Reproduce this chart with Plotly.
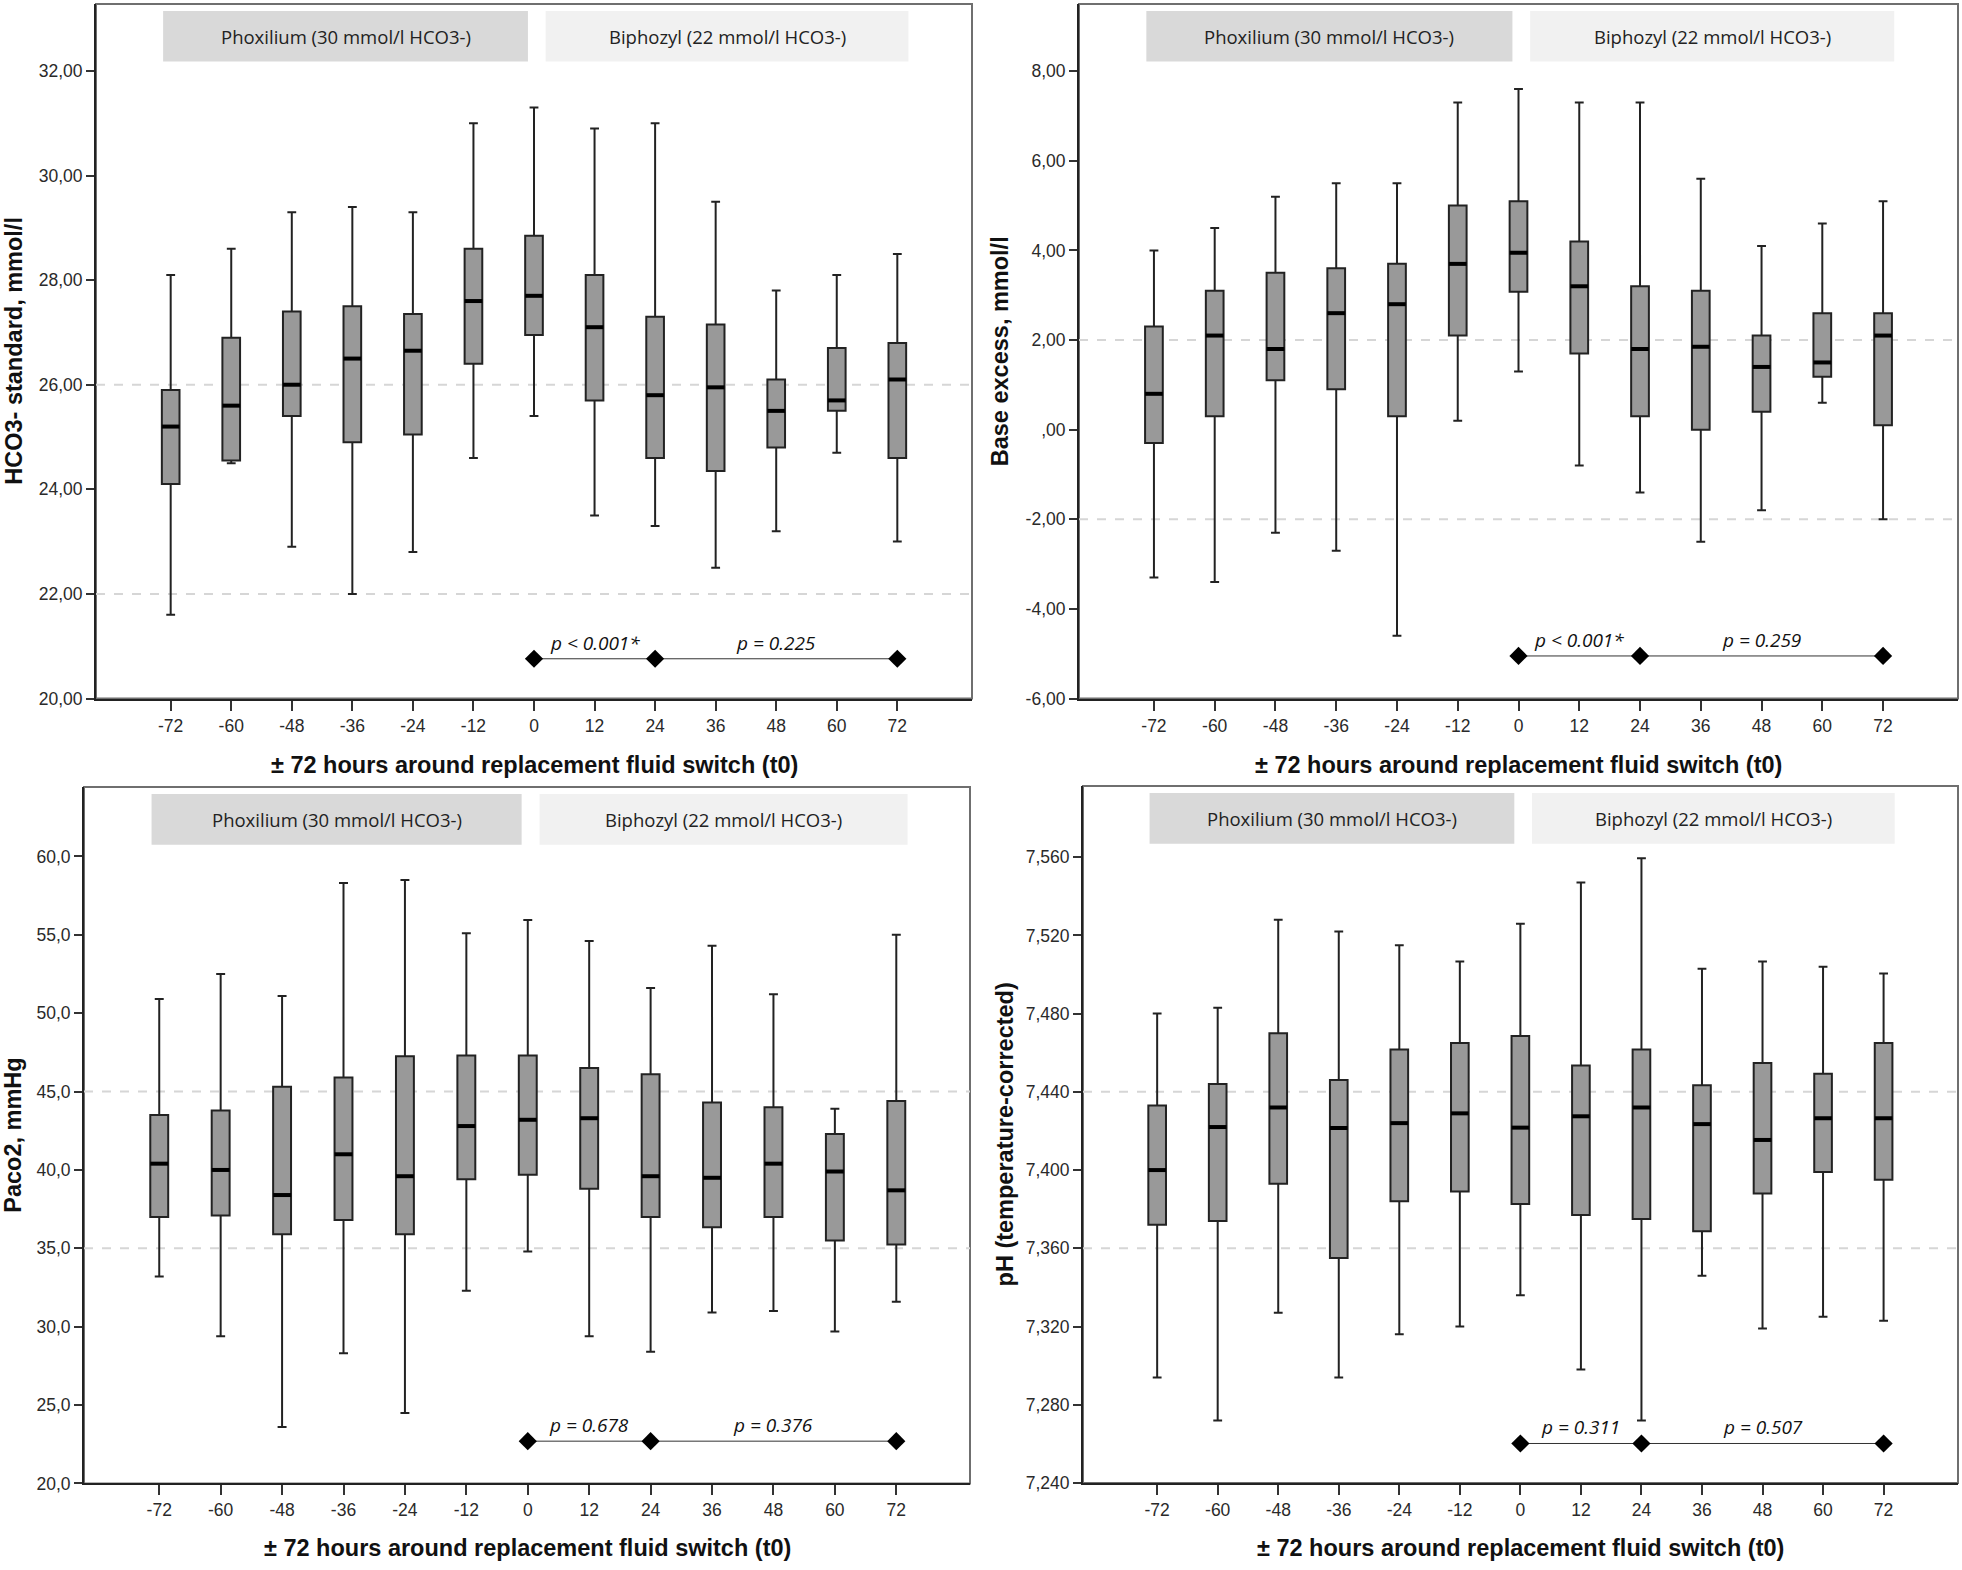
import plotly.graph_objects as go

# ---------------- data ----------------
hours = [-72, -60, -48, -36, -24, -12, 0, 12, 24, 36, 48, 60, 72]
hour_labels = [str(h) for h in hours]

# Panel 1: HCO3- standard, mmol/l
hco3_low = [21.6, 24.5, 22.9, 22.0, 22.8, 24.6, 25.4, 23.5, 23.3, 22.5, 23.2, 24.7, 23.0]
hco3_q1 = [24.1, 24.55, 25.4, 24.9, 25.05, 26.4, 26.95, 25.7, 24.6, 24.35, 24.8, 25.5, 24.6]
hco3_med = [25.2, 25.6, 26.0, 26.5, 26.65, 27.6, 27.7, 27.1, 25.8, 25.95, 25.5, 25.7, 26.1]
hco3_q3 = [25.9, 26.9, 27.4, 27.5, 27.35, 28.6, 28.85, 28.1, 27.3, 27.15, 26.1, 26.7, 26.8]
hco3_high = [28.1, 28.6, 29.3, 29.4, 29.3, 31.0, 31.3, 30.9, 31.0, 29.5, 27.8, 28.1, 28.5]
hco3_ticks = [20, 22, 24, 26, 28, 30, 32]
hco3_ticklabels = ["20,00", "22,00", "24,00", "26,00", "28,00", "30,00", "32,00"]
hco3_refs = [22, 26]
hco3_p_y = 20.76
hco3_p_text = ["p < 0.001*", "p = 0.225"]

# Panel 2: Base excess, mmol/l
be_low = [-3.3, -3.4, -2.3, -2.7, -4.6, 0.2, 1.3, -0.8, -1.4, -2.5, -1.8, 0.6, -2.0]
be_q1 = [-0.3, 0.3, 1.1, 0.9, 0.3, 2.1, 3.08, 1.7, 0.3, 0.0, 0.4, 1.18, 0.1]
be_med = [0.8, 2.1, 1.8, 2.6, 2.8, 3.7, 3.95, 3.2, 1.8, 1.85, 1.4, 1.5, 2.1]
be_q3 = [2.3, 3.1, 3.5, 3.6, 3.7, 5.0, 5.1, 4.2, 3.2, 3.1, 2.1, 2.6, 2.6]
be_high = [4.0, 4.5, 5.2, 5.5, 5.5, 7.3, 7.6, 7.3, 7.3, 5.6, 4.1, 4.6, 5.1]
be_ticks = [-6, -4, -2, 0, 2, 4, 6, 8]
be_ticklabels = ["-6,00", "-4,00", "-2,00", ",00", "2,00", "4,00", "6,00", "8,00"]
be_refs = [-2, 2]
be_p_y = -5.05
be_p_text = ["p < 0.001*", "p = 0.259"]

# Panel 3: Paco2, mmHg
paco2_low = [33.2, 29.4, 23.6, 28.3, 24.5, 32.3, 34.8, 29.4, 28.4, 30.9, 31.0, 29.7, 31.6]
paco2_q1 = [37.0, 37.1, 35.9, 36.8, 35.9, 39.4, 39.7, 38.8, 37.0, 36.35, 37.0, 35.5, 35.25]
paco2_med = [40.4, 40.0, 38.4, 41.0, 39.6, 42.8, 43.2, 43.3, 39.6, 39.5, 40.4, 39.9, 38.7]
paco2_q3 = [43.5, 43.8, 45.3, 45.9, 47.25, 47.3, 47.3, 46.5, 46.1, 44.3, 44.0, 42.3, 44.4]
paco2_high = [50.9, 52.5, 51.1, 58.3, 58.5, 55.1, 55.95, 54.6, 51.6, 54.3, 51.2, 43.9, 55.0]
paco2_ticks = [20, 25, 30, 35, 40, 45, 50, 55, 60]
paco2_ticklabels = ["20,0", "25,0", "30,0", "35,0", "40,0", "45,0", "50,0", "55,0", "60,0"]
paco2_refs = [35, 45]
paco2_p_y = 22.7
paco2_p_text = ["p = 0.678", "p = 0.376"]

# Panel 4: pH (temperature-corrected)
ph_low = [7.294, 7.272, 7.327, 7.294, 7.316, 7.320, 7.336, 7.298, 7.272, 7.346, 7.319, 7.325, 7.323]
ph_q1 = [7.372, 7.374, 7.393, 7.355, 7.384, 7.389, 7.3826, 7.377, 7.375, 7.3687, 7.388, 7.399, 7.395]
ph_med = [7.400, 7.422, 7.432, 7.4215, 7.424, 7.429, 7.4217, 7.4275, 7.432, 7.4235, 7.4154, 7.4265, 7.4265]
ph_q3 = [7.433, 7.444, 7.470, 7.446, 7.4617, 7.465, 7.4685, 7.4535, 7.4617, 7.4434, 7.4547, 7.4492, 7.465]
ph_high = [7.480, 7.483, 7.528, 7.522, 7.515, 7.5066, 7.526, 7.547, 7.5595, 7.503, 7.5066, 7.504, 7.5005]
ph_ticks = [7.24, 7.28, 7.32, 7.36, 7.40, 7.44, 7.48, 7.52, 7.56]
ph_ticklabels = ["7,240", "7,280", "7,320", "7,360", "7,400", "7,440", "7,480", "7,520", "7,560"]
ph_refs = [7.36, 7.44]
ph_p_y = 7.2602
ph_p_text = ["p = 0.311", "p = 0.507"]

p_hours = [0, 24, 72]
p_text_hours = [12, 48]

group_labels = ["Phoxilium (30 mmol/l HCO3-)", "Biphozyl (22 mmol/l HCO3-)"]
group_spans = [(-73.5, -1.2), (2.3, 74.2)]
group_colors = ["#d9d9d9", "#f1f1f1"]

x_title = "± 72 hours around replacement fluid switch (t0)"

# ---------------- layout geometry (pixels) ----------------
W, H = 1962, 1570
panels = [
    dict(low=hco3_low, q1=hco3_q1, med=hco3_med, q3=hco3_q3, high=hco3_high,
         ticks=hco3_ticks, labels=hco3_ticklabels, refs=hco3_refs, p_y=hco3_p_y, p_text=hco3_p_text,
         ytitle="HCO3- standard, mmol/l", px=(96, 972), py=(4, 703), yr=(20, 33.28), xr=(-86.8, 86.8),
         ytitle_x=14.5, xtitle_y=770),
    dict(low=be_low, q1=be_q1, med=be_med, q3=be_q3, high=be_high,
         ticks=be_ticks, labels=be_ticklabels, refs=be_refs, p_y=be_p_y, p_text=be_p_text,
         ytitle="Base excess, mmol/l", px=(1079, 1958), py=(4, 703), yr=(-6, 9.5), xr=(-86.8, 86.8),
         ytitle_x=1000, xtitle_y=770),
    dict(low=paco2_low, q1=paco2_q1, med=paco2_med, q3=paco2_q3, high=paco2_high,
         ticks=paco2_ticks, labels=paco2_ticklabels, refs=paco2_refs, p_y=paco2_p_y, p_text=paco2_p_text,
         ytitle="Paco2, mmHg", px=(84, 970), py=(792, 1493), yr=(20, 64.43), xr=(-86.7, 86.4),
         ytitle_x=13.5, xtitle_y=1558),
    dict(low=ph_low, q1=ph_q1, med=ph_med, q3=ph_q3, high=ph_high,
         ticks=ph_ticks, labels=ph_ticklabels, refs=ph_refs, p_y=ph_p_y, p_text=ph_p_text,
         ytitle="pH (temperature-corrected)", px=(1083, 1958), py=(791, 1492.5), yr=(7.24, 7.5964), xr=(-86.7, 86.75),
         ytitle_x=1005, xtitle_y=1558),
]

BOX_W = 3.5
fig = go.Figure()
shapes = []
annotations = []
layout = dict(width=W, height=H, margin=dict(l=0, r=0, t=0, b=0),
              paper_bgcolor="white", plot_bgcolor="white", showlegend=False)

tick_font = dict(family="Liberation Sans, Arial, sans-serif", size=17.5, color="#2a2a2a")
title_font = dict(family="Liberation Sans, Arial, sans-serif", size=23.5, color="#111111")
label_font = dict(family="Open Sans, Noto Sans, sans-serif", size=18.5, color="#222222")

for i, p in enumerate(panels):
    sfx = "" if i == 0 else str(i + 1)
    xref, yref = "x" + sfx, "y" + sfx
    xd = [p["px"][0] / W, p["px"][1] / W]
    yd = [1 - p["py"][1] / H, 1 - p["py"][0] / H]
    layout["xaxis" + sfx] = dict(
        domain=xd, range=list(p["xr"]), anchor=yref, tickmode="array",
        tickvals=hours, ticktext=hour_labels, ticks="outside", ticklen=10, tickwidth=2,
        tickcolor="#333333", showline=True, linecolor="#222222", linewidth=2,
        showgrid=False, zeroline=False, tickfont=tick_font, fixedrange=True)
    layout["yaxis" + sfx] = dict(
        domain=yd, range=list(p["yr"]), anchor=xref, tickmode="array",
        tickvals=p["ticks"], ticktext=p["labels"], ticks="outside", ticklen=8, tickwidth=2,
        tickcolor="#333333", showline=True, linecolor="#222222", linewidth=2,
        showgrid=False, zeroline=False, tickfont=tick_font, fixedrange=True)

    # frame
    shapes.append(dict(type="rect", xref=xref + " domain", yref=yref + " domain",
                       x0=0, x1=1, y0=0, y1=1, line=dict(color="#6f6f6f", width=2), layer="below"))
    # reference lines
    for r in p["refs"]:
        shapes.append(dict(type="line", xref=xref + " domain", yref=yref, x0=0, x1=1, y0=r, y1=r,
                           line=dict(color="#d6d6d6", width=2, dash="dash"), layer="below"))
    # group header boxes
    for (g0, g1), lab, col in zip(group_spans, group_labels, group_colors):
        shapes.append(dict(type="rect", xref=xref, yref=yref + " domain", x0=g0, x1=g1,
                           y0=0.917, y1=0.990, fillcolor=col, line=dict(width=0), layer="below"))
        annotations.append(dict(xref=xref, yref=yref + " domain", x=(g0 + g1) / 2, y=0.9535,
                                text=lab, showarrow=False, font=label_font,
                                xanchor="center", yanchor="middle"))

    # boxes
    fig.add_trace(go.Box(
        x=hours, q1=p["q1"], median=p["med"], q3=p["q3"],
        lowerfence=p["low"], upperfence=p["high"], width=BOX_W, whiskerwidth=0.5,
        fillcolor="#999999", line=dict(color="#222222", width=2), boxpoints=False,
        xaxis=xref, yaxis=yref, hoverinfo="skip"))
    # thick median bars
    mx, my = [], []
    for h, m in zip(hours, p["med"]):
        mx += [h - BOX_W / 2, h + BOX_W / 2, None]
        my += [m, m, None]
    fig.add_trace(go.Scatter(x=mx, y=my, mode="lines", line=dict(color="black", width=4),
                             xaxis=xref, yaxis=yref, hoverinfo="skip"))
    # p-value bracket
    fig.add_trace(go.Scatter(x=p_hours, y=[p["p_y"]] * len(p_hours), mode="lines+markers",
                             line=dict(color="#333333", width=1),
                             marker=dict(symbol="diamond", size=14, color="black"),
                             xaxis=xref, yaxis=yref, hoverinfo="skip"))
    for hx, t in zip(p_text_hours, p["p_text"]):
        annotations.append(dict(xref=xref, yref=yref, x=hx, y=p["p_y"], text="<i>" + t + "</i>",
                                showarrow=False, yshift=16, xanchor="center", yanchor="middle",
                                font=dict(family="Open Sans, Noto Sans, sans-serif", size=19, color="#111111")))

    # axis titles
    annotations.append(dict(xref="paper", yref="paper", x=p["ytitle_x"] / W,
                            y=(yd[0] + yd[1]) / 2, text="<b>" + p["ytitle"] + "</b>",
                            textangle=-90, showarrow=False, xanchor="center", yanchor="middle",
                            font=title_font))
    annotations.append(dict(xref="paper", yref="paper", x=(xd[0] + xd[1]) / 2,
                            y=1 - p["xtitle_y"] / H, text="<b>" + x_title + "</b>",
                            showarrow=False, xanchor="center", yanchor="middle", font=title_font))

layout["shapes"] = shapes
layout["annotations"] = annotations
fig.update_layout(**layout)
fig.write_html("out.html", config={"displayModeBar": False},
               post_script="document.body.style.margin='0';document.body.style.overflow='hidden';")
